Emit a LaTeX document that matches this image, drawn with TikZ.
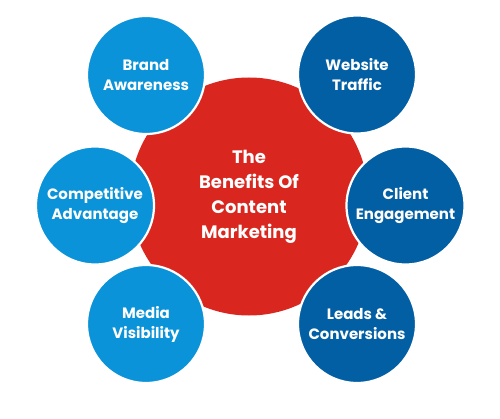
\documentclass[tikz,border=0pt]{standalone}
\usepackage{fontspec}
\setmainfont{Poppins}
\definecolor{lblue}{HTML}{0A93D8}
\definecolor{dblue}{HTML}{035FA3}
\definecolor{cred}{HTML}{D9261E}
\begin{document}
\begin{tikzpicture}[x=1pt,y=1pt,
  bub/.style={circle,draw=white,line width=2.2pt,minimum size=118pt,inner sep=0pt,text=white,
    font=\fontsize{15}{20}\selectfont\bfseries,align=center},
  lb/.style={bub,fill=lblue},
  db/.style={bub,fill=dblue}]
\useasboundingbox (0,0) rectangle (500,418);
\node[circle,fill=cred,minimum size=238pt,inner sep=0pt,text=white,
  font=\fontsize{18}{25}\selectfont\bfseries,align=center] (c) at (249,221.5) {The\\Benefits Of\\Content\\Marketing};
\node[lb] (ba) at (146,343) {Brand\\Awareness};
\node[db] (wt) at (357,343.5) {Website\\Traffic};
\node[lb] (ca) at (95,212.5) {Competitive\\Advantage};
\node[db] (ce) at (405.5,212.5) {Client\\Engagement};
\node[lb] (mv) at (146,94) {Media\\Visibility};
\node[db] (lc) at (357,94) {Leads \&\\Conversions};
\end{tikzpicture}
\end{document}
